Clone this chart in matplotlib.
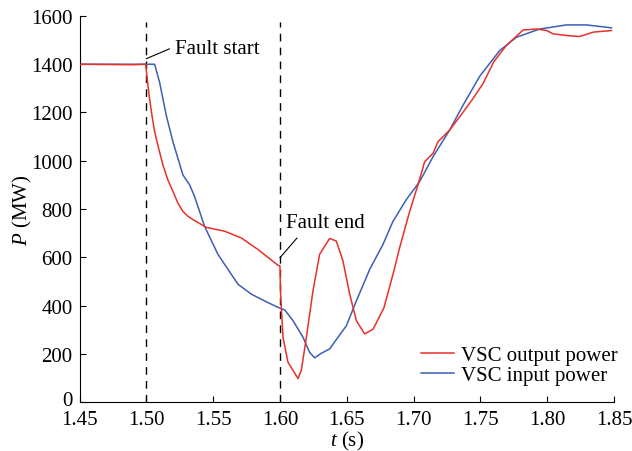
import matplotlib
matplotlib.use("Agg")
import matplotlib.pyplot as plt
from matplotlib.transforms import ScaledTranslation

plt.rcParams["font.family"] = ["Liberation Serif", "DejaVu Serif"]
plt.rcParams["mathtext.fontset"] = "custom"
plt.rcParams["mathtext.rm"] = "Liberation Serif"
plt.rcParams["mathtext.it"] = "Liberation Serif:italic"

# VSC output power (MW) vs time (s)
t_out = [1.45, 1.49, 1.4995, 1.5004, 1.5012, 1.5024, 1.5042, 1.5062, 1.5092, 1.5124,
         1.5161, 1.5199, 1.5236, 1.5274, 1.5311, 1.5349, 1.5449, 1.5586, 1.5711, 1.5836,
         1.5985, 1.6000, 1.6005, 1.6023, 1.6060, 1.6098, 1.6135, 1.6160, 1.6198, 1.6247,
         1.6297, 1.6372, 1.6422, 1.6472, 1.6522, 1.6572, 1.6634, 1.6697, 1.6778, 1.6846,
         1.6896, 1.6971, 1.7033, 1.7083, 1.7146, 1.7183, 1.7270, 1.7345, 1.7445, 1.7520,
         1.7600, 1.7695, 1.7820, 1.7920, 1.7995, 1.8045, 1.8144, 1.8244, 1.8344, 1.8481]
p_out = [1400, 1398, 1400, 1354, 1313, 1258, 1189, 1121, 1052, 983,
         921, 873, 825, 790, 770, 756, 724, 708, 680, 632,
         567, 564, 447, 268, 165, 131, 97, 131, 268, 460,
         612, 678, 667, 584, 447, 337, 282, 302, 390, 529,
         640, 790, 900, 996, 1031, 1079, 1127, 1182, 1258, 1320,
         1410, 1478, 1542, 1546, 1540, 1526, 1519, 1515, 1533, 1540]

# VSC input power (MW) vs time (s)
t_in = [1.45, 1.5062, 1.5099, 1.5149, 1.5199, 1.5274, 1.5324, 1.5361, 1.5436, 1.5536,
        1.5611, 1.5686, 1.5786, 1.5885, 1.5960, 1.6000, 1.6037, 1.6098, 1.6173, 1.6222,
        1.6260, 1.6310, 1.6372, 1.6434, 1.6497, 1.6572, 1.6672, 1.6771, 1.6846, 1.6946,
        1.7046, 1.7146, 1.7270, 1.7370, 1.7495, 1.7645, 1.7770, 1.7944, 1.8144, 1.8294,
        1.8481]
p_in = [1400, 1400, 1326, 1189, 1079, 941, 900, 852, 728, 612,
        550, 488, 447, 419, 399, 389, 381, 337, 268, 206,
        183, 202, 220, 268, 316, 419, 550, 653, 749, 839,
        914, 1017, 1127, 1230, 1350, 1457, 1512, 1546, 1563, 1563,
        1551]

fault_times = [1.50, 1.60]
x_ticks = [1.45, 1.50, 1.55, 1.60, 1.65, 1.70, 1.75, 1.80, 1.85]
y_ticks = list(range(0, 1601, 200))

fig = plt.figure(figsize=(6.32, 4.52), dpi=100)
ax = fig.add_axes([0.1258, 0.1084, 0.8457, 0.854])

for ft in fault_times:
    ax.plot([ft, ft], [0, 1575], color="black", lw=1.0,
            linestyle=(0, (5.5, 4.5)), zorder=1)

ax.plot(t_out, p_out, color="#e8302a", lw=1.1, label="VSC output power", zorder=3)
ax.plot(t_in, p_in, color="#3b5fb5", lw=1.1, label="VSC input power", zorder=2)

ax.set_xlim(1.45, 1.85)
ax.set_ylim(0, 1600)
ax.set_xticks(x_ticks)
ax.set_xticklabels([f"{v:.2f}" for v in x_ticks])
ax.set_yticks(y_ticks)
ax.tick_params(direction="in", length=4, width=0.8, labelsize=15, colors="black")
ax.tick_params(axis="x", pad=6)
ax.tick_params(axis="y", pad=5)
ax.spines["top"].set_visible(False)
ax.spines["right"].set_visible(False)

# lift the "0" label a little so it clears the first x tick label
zero_lbl = ax.yaxis.get_major_ticks()[0].label1
zero_lbl.set_transform(zero_lbl.get_transform()
                       + ScaledTranslation(0, 4 / 100, fig.dpi_scale_trans))

ax.set_xlabel(r"$t$ (s)", fontsize=15, labelpad=0)
ax.set_ylabel(r"$P$ (MW)", fontsize=15, labelpad=-2)

# fault markers: leader lines plus labels
ax.annotate("", xy=(1.50, 1423), xytext=(1.5174, 1464),
            arrowprops=dict(arrowstyle="-", color="black", lw=0.8,
                            shrinkA=0, shrinkB=0))
ax.text(1.5211, 1466, "Fault start", fontsize=15, va="center", ha="left")
ax.annotate("", xy=(1.60, 598), xytext=(1.6128, 680),
            arrowprops=dict(arrowstyle="-", color="black", lw=0.8,
                            shrinkA=0, shrinkB=0))
ax.text(1.6042, 742, "Fault end", fontsize=15, va="center", ha="left")

ax.legend(loc="lower right", bbox_to_anchor=(1.035, 0.005), frameon=False,
          fontsize=15, handlelength=1.6, handletextpad=0.35, labelspacing=0.05,
          borderaxespad=0.3)

fig.savefig("out.png", dpi=100)
